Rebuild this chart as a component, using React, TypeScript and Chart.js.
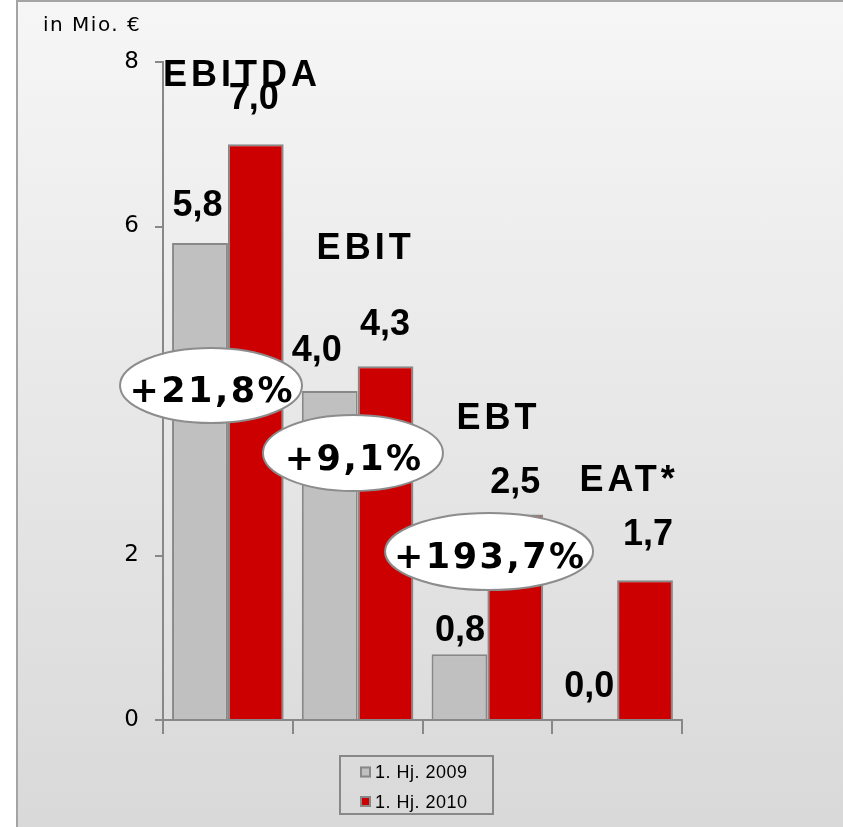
import React, { useEffect, useRef } from "react";
import { Chart, registerables } from "chart.js";

Chart.register(...registerables);

// ---------- data ----------
const categories = ["EBITDA", "EBIT", "EBT", "EAT*"];
const seriesNames = ["1. Hj. 2009", "1. Hj. 2010"];
const values2009 = [5.8, 4.0, 0.8, 0.0];
const values2010 = [7.0, 4.3, 2.5, 1.7];
const changeLabels = ["+21,8%", "+9,1%", "+193,7%"];
const yMin = 0;
const yMax = 8;
const yStep = 2;
const unitLabel = "in Mio. €";

// ---------- styling / layout ----------
const GRAY = "#c0c0c0";
const RED = "#cc0000";
const EDGE = "#888888";
const ARIAL = '"Liberation Sans", Arial, sans-serif';
const VERDANA = '"DejaVu Sans", Verdana, sans-serif';

// offsets of value labels (center) from the bar top-center, per series / per category
const valueLabelOffsets = [
  [ { dx: -2.5, dy: -39.5 }, { dx: -13, dy: -42.5 }, { dx: 0.5, dy: -26 }, { dx: 0, dy: -36 } ],
  [ { dx: -2, dy: -48 }, { dx: -0.5, dy: -44 }, { dx: 0, dy: -34 }, { dx: 3, dy: -48 } ],
];
// offsets of category labels (cap center) from category center / tallest bar top
const categoryLabelOffsets = [
  { dx: 12, dy: -71 },
  { dx: 6, dy: -120 },
  { dx: 9, dy: -98 },
  { dx: 10, dy: -102 },
];
// change badges, in scale units (x = category index, y = value)
const badgeLayout = [
  { x: -0.13, y: 4.067, rx: 91, ry: 37.5 },
  { x: 0.964, y: 3.246, rx: 90, ry: 38 },
  { x: 2.013, y: 2.049, rx: 104, ry: 38.5 },
];
const legendBox = { left: 340, top: 756, width: 153, height: 58, rowY: [772, 801.5], swatchX: 360, swatch: 11, textX: 375 };

const fmt = (v: number) => v.toFixed(1).replace(".", ",");

function drawSpaced(ctx: any, text: string, cx: number, baseline: number, spacing: number) {
  ctx.letterSpacing = spacing + "px";
  const w = ctx.measureText(text).width;
  const hasLS = typeof ctx.letterSpacing === "string";
  ctx.textAlign = "left";
  ctx.fillText(text, cx - (w - (hasLS ? spacing : 0)) / 2, baseline);
  ctx.letterSpacing = "0px";
}

const overlayPlugin = {
  id: "overlay",
  afterDraw(chart: any) {
    const ctx = chart.ctx;
    const xs = chart.scales.x;
    const ys = chart.scales.y;
    ctx.save();
    ctx.fillStyle = "#000";
    ctx.textBaseline = "alphabetic";

    // unit label
    ctx.font = `20px ${VERDANA}`;
    (ctx as any).letterSpacing = "1.5px";
    ctx.textAlign = "left";
    ctx.fillText(unitLabel, 43, 24 + 0.364 * 20);
    (ctx as any).letterSpacing = "0px";

    const metas = [chart.getDatasetMeta(0), chart.getDatasetMeta(1)];

    // category labels
    ctx.font = `bold 36px ${ARIAL}`;
    categories.forEach((c, i) => {
      const cx = xs.getPixelForValue(i);
      const top = Math.min(metas[0].data[i].y, metas[1].data[i].y);
      const o = categoryLabelOffsets[i];
      drawSpaced(ctx, c, cx + o.dx, top + o.dy + 0.358 * 36, 4);
    });

    // value labels
    ctx.font = `bold 36px ${ARIAL}`;
    metas.forEach((meta, s) => {
      const vals = s === 0 ? values2009 : values2010;
      meta.data.forEach((el: any, i: number) => {
        const o = valueLabelOffsets[s][i];
        ctx.textAlign = "center";
        ctx.fillText(fmt(vals[i]), el.x + o.dx, el.y + o.dy + 0.358 * 36);
      });
    });

    // change badges
    badgeLayout.forEach((b, i) => {
      const cx = xs.getPixelForValue(b.x);
      const cy = ys.getPixelForValue(b.y);
      ctx.beginPath();
      ctx.ellipse(cx, cy, b.rx, b.ry, 0, 0, Math.PI * 2);
      ctx.fillStyle = "#ffffff";
      ctx.fill();
      ctx.lineWidth = 2;
      ctx.strokeStyle = "#8c8c8c";
      ctx.stroke();
      ctx.fillStyle = "#000";
      ctx.font = `bold 35px ${VERDANA}`;
      drawSpaced(ctx, changeLabels[i], cx, cy + 4 + 0.364 * 35, 2.5);
    });

    // legend
    const L = legendBox;
    ctx.lineWidth = 2;
    ctx.strokeStyle = EDGE;
    ctx.strokeRect(L.left, L.top, L.width, L.height);
    chart.data.datasets.forEach((ds: any, i: number) => {
      const cy = L.rowY[i];
      ctx.fillStyle = ds.backgroundColor;
      ctx.fillRect(L.swatchX, cy - L.swatch / 2, L.swatch, L.swatch);
      ctx.lineWidth = 2;
      ctx.strokeStyle = EDGE;
      ctx.strokeRect(L.swatchX + 1, cy - L.swatch / 2 + 1, L.swatch - 2, L.swatch - 2);
      ctx.fillStyle = "#000";
      ctx.font = `18px ${ARIAL}`;
      (ctx as any).letterSpacing = "0.5px";
      ctx.textAlign = "left";
      ctx.fillText(ds.label, L.textX, cy + 0.358 * 18);
      (ctx as any).letterSpacing = "0px";
    });

    ctx.restore();
  },
};

export default function App() {
  const ref = useRef<HTMLCanvasElement | null>(null);

  useEffect(() => {
    if (!ref.current) return;
    const chart = new Chart(ref.current, {
      type: "bar",
      data: {
        labels: categories,
        datasets: [
          {
            label: seriesNames[0],
            data: values2009,
            backgroundColor: GRAY,
            borderColor: EDGE,
            borderWidth: (c: any) => (c.raw === 0 ? 0 : 2),
            categoryPercentage: 0.86,
            barPercentage: 1,
          },
          {
            label: seriesNames[1],
            data: values2010,
            backgroundColor: RED,
            borderColor: EDGE,
            borderWidth: (c: any) => (c.raw === 0 ? 0 : 2),
            categoryPercentage: 0.86,
            barPercentage: 1,
          },
        ],
      },
      options: {
        responsive: false,
        animation: false,
        layout: { padding: { left: 103, right: 161, top: 62, bottom: 87 } },
        plugins: { legend: { display: false }, tooltip: { enabled: false }, title: { display: false } },
        scales: {
          x: {
            grid: { offset: true, drawOnChartArea: false, drawTicks: true, tickLength: 14, color: EDGE, lineWidth: 2 },
            border: { display: true, color: EDGE, width: 2 },
            ticks: { display: false },
            afterFit: (s: any) => {
              s.height = 20;
            },
          },
          y: {
            min: yMin,
            max: yMax,
            ticks: { stepSize: yStep, padding: 16, color: "#000", font: { family: VERDANA, size: 23 } },
            grid: { drawOnChartArea: false, drawTicks: true, tickLength: 8, color: EDGE, lineWidth: 2 },
            border: { display: true, color: EDGE, width: 2 },
            afterFit: (s: any) => {
              s.width = 60;
            },
          },
        },
      } as any,
      plugins: [overlayPlugin],
    });
    return () => chart.destroy();
  }, []);

  return (
    <div style={{ position: "fixed", left: 0, top: 0, width: 843, height: 827, background: "#ffffff", overflow: "hidden" }}>
      <div
        style={{
          position: "absolute",
          left: 16,
          top: 0,
          width: 843 - 16,
          height: 827,
          boxSizing: "border-box",
          borderLeft: "2px solid #a4a4a4",
          borderTop: "2px solid #a4a4a4",
          background: "linear-gradient(#f6f6f6, #d9d9d9)",
        }}
      />
      <canvas ref={ref} width={843} height={827} style={{ position: "absolute", left: 0, top: 0, width: 843, height: 827 }} />
    </div>
  );
}
